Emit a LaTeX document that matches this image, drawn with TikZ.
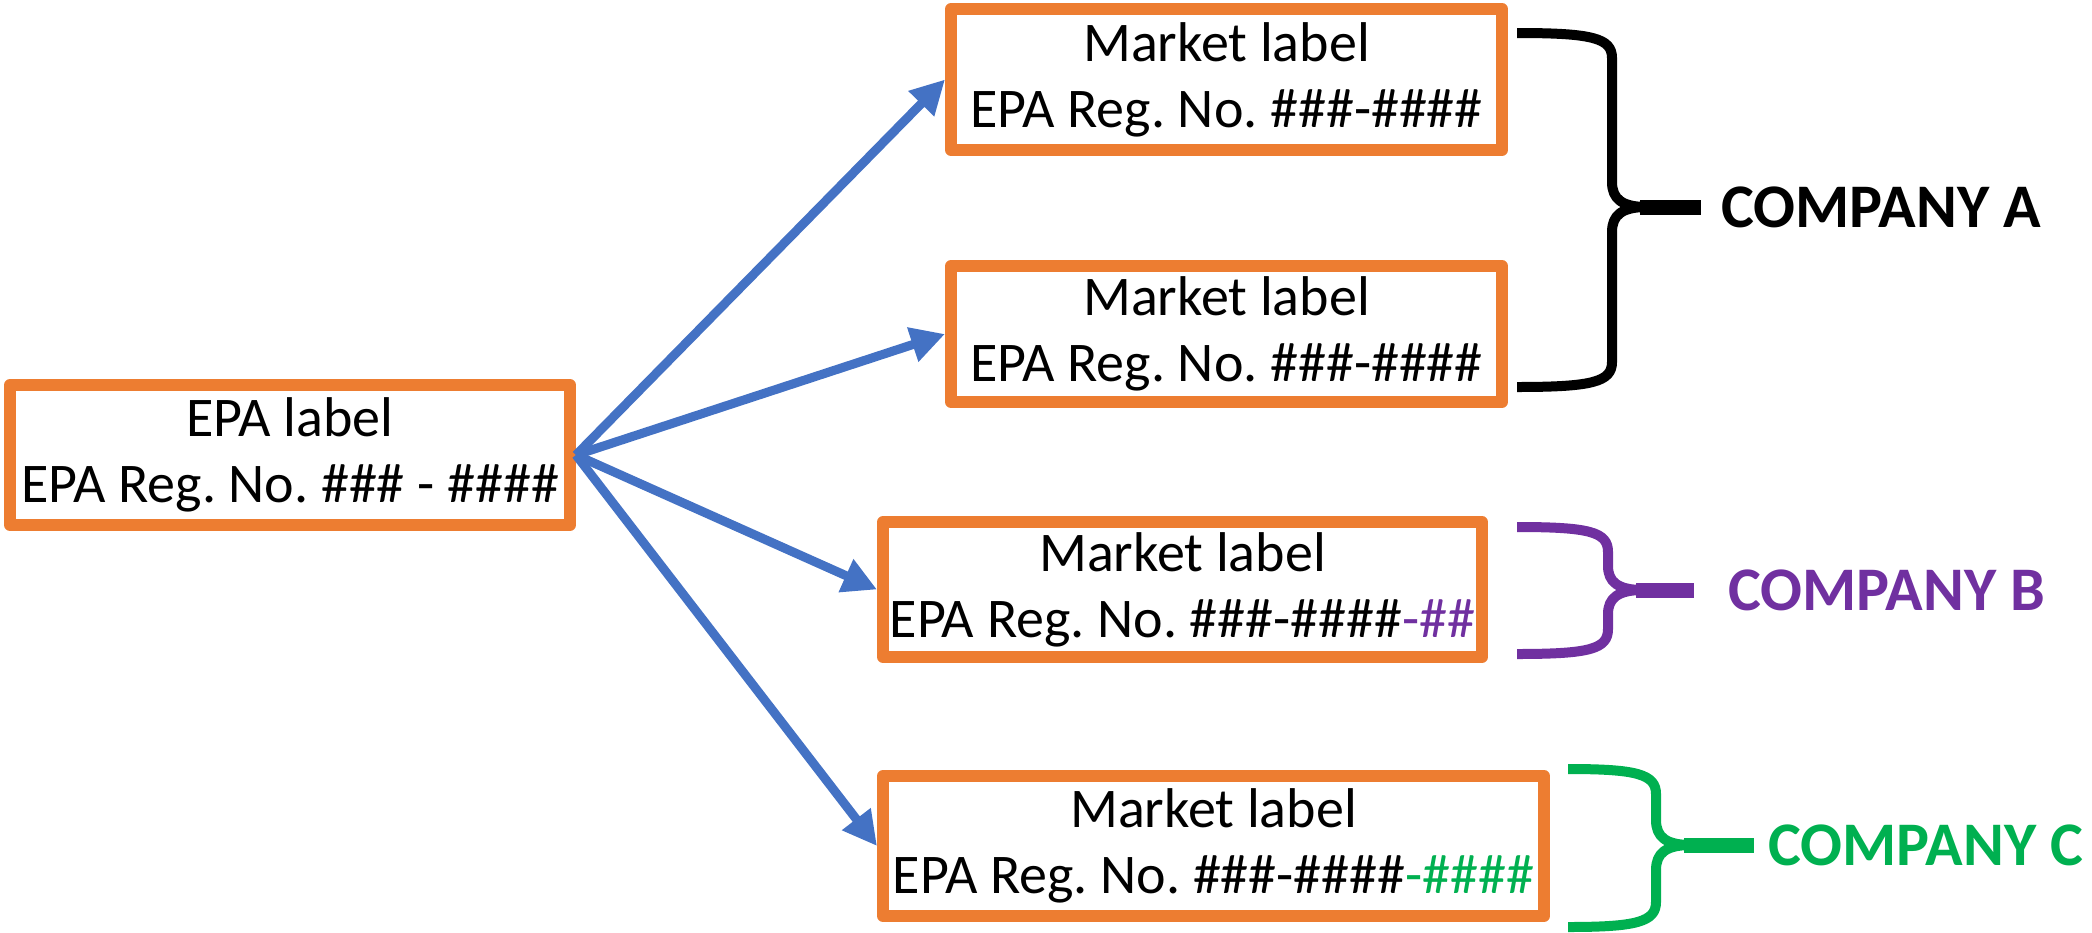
\documentclass[tikz,border=0pt]{standalone}
\usepackage{fontspec}
\setmainfont{Carlito}
\usetikzlibrary{arrows.meta,positioning}
\definecolor{boxorange}{HTML}{ED7D31}
\definecolor{arrowblue}{HTML}{4472C4}
\definecolor{compB}{HTML}{7030A0}
\definecolor{compC}{HTML}{00B050}
\frenchspacing

\begin{document}
\begin{tikzpicture}[x=0.5pt,y=-0.5pt,>={Triangle[length=17pt,width=17pt]},
                    line join=round]
  \tikzstyle{labelbox}=[rectangle,draw=boxorange,fill=white,line width=6pt,
                        align=center,inner sep=0pt,font=\fontsize{28}{33}\selectfont]
  \tikzstyle{company}=[inner sep=0pt,font=\fontsize{31}{36}\selectfont\bfseries]
  \tikzstyle{brace}=[line width=5pt,line cap=butt]
  \tikzstyle{feed}=[->,draw=arrowblue,line width=4.5pt]

  \useasboundingbox (0,0) rectangle (2092,932);

  \node[labelbox,minimum width=280pt,minimum height=70pt] (epa) at (290,455)
        {EPA label\\EPA Reg. No. \#\#\# - \#\#\#\#};
  \node[labelbox,minimum width=275.5pt,minimum height=70.5pt] (m1) at (1226.5,79.5)
        {Market label\\EPA Reg. No. \#\#\#-\#\#\#\#};
  \node[labelbox,minimum width=275.5pt,minimum height=68pt] (m2) at (1226.5,334)
        {Market label\\EPA Reg. No. \#\#\#-\#\#\#\#};
  \node[labelbox,minimum width=299.5pt,minimum height=67.5pt] (m3) at (1182.5,589.5)
        {Market label\\EPA Reg. No. \#\#\#-\#\#\#\#\textcolor{compB}{-\#\#}};
  \node[labelbox,minimum width=330.5pt,minimum height=70pt] (m4) at (1213.5,846)
        {Market label\\EPA Reg. No. \#\#\#-\#\#\#\#\textcolor{compC}{-\#\#\#\#}};

  \draw[feed] (epa.east) -- (m1.west);
  \draw[feed] (epa.east) -- (m2.west);
  \draw[feed] (epa.east) -- (m3.west);
  \draw[feed] (epa.east) -- (m4.west);

  % company A
  \draw[brace,black] (1517,33) .. controls (1592,33) and (1612,38) .. (1612,58)
        -- (1612,182) .. controls (1612,199) and (1622,207) .. (1647,207);
  \draw[brace,black] (1517,387) .. controls (1592,387) and (1612,382) .. (1612,362)
        -- (1612,232) .. controls (1612,215) and (1622,207) .. (1647,207);
  \draw[black,line width=7.5pt] (1640,207) -- (1701,207) coordinate (tipA);
  \node[company,black,right=10pt of tipA] (compa) {COMPANY A};

  % company B
  \draw[brace,compB] (1517,527) .. controls (1590,527) and (1608,532) .. (1608,552)
        -- (1608,566) .. controls (1608,582) and (1618,590) .. (1643,590);
  \draw[brace,compB] (1517,654) .. controls (1590,654) and (1608,649) .. (1608,629)
        -- (1608,614) .. controls (1608,598) and (1618,590) .. (1643,590);
  \draw[compB,line width=7.5pt] (1636,590) -- (1694,590) coordinate (tipB);
  \node[company,compB,right=17pt of tipB] (compb) {COMPANY B};

  % company C
  \draw[brace,compC] (1568,769) .. controls (1636,769) and (1656,774) .. (1656,794)
        -- (1656,820) .. controls (1656,837) and (1666,845) .. (1691,845);
  \draw[brace,compC] (1568,927) .. controls (1636,927) and (1656,922) .. (1656,902)
        -- (1656,870) .. controls (1656,853) and (1666,845) .. (1691,845);
  \draw[compC,line width=7.5pt] (1684,845) -- (1754,845) coordinate (tipC);
  \node[company,compC,right=7pt of tipC] (compc) {COMPANY C};
\end{tikzpicture}
\end{document}
